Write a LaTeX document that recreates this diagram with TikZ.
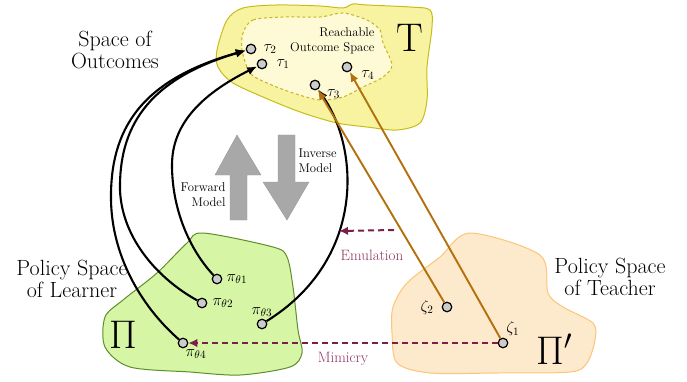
\RequirePackage{fix-cm}
\documentclass[tikz,border=0pt]{standalone}
\usetikzlibrary{arrows.meta}

\definecolor{outfill}{HTML}{F8F3A0}
\definecolor{outline}{HTML}{C8BC1A}
\definecolor{reachfill}{HTML}{FEFAD6}
\definecolor{reachline}{HTML}{C9B41C}
\definecolor{learnfill}{HTML}{D6F5A5}
\definecolor{learnline}{HTML}{5E8E2C}
\definecolor{teachfill}{HTML}{FDE9CB}
\definecolor{teachline}{HTML}{FBC57A}
\definecolor{emubrown}{HTML}{B3700C}
\definecolor{mimred}{HTML}{7C1E48}
\definecolor{mimtext}{HTML}{8E3460}
\definecolor{modelgray}{HTML}{A8A8A8}

\tikzset{
  dot/.style={circle, draw=black, fill=gray!40, line width=1.2pt, minimum size=9.5pt, inner sep=0pt},
  ptlab/.style={font=\fontsize{16}{16}\selectfont, inner sep=1pt},
  bigsym/.style={font=\fontsize{40}{40}\selectfont},
  spacelab/.style={font=\fontsize{22}{22}\selectfont, align=center},
  smalllab/.style={font=\fontsize{12.7}{15}\selectfont},
  pull/.style={-{Latex[length=10pt,width=8.5pt]}, line width=2.1pt},
  copyarr/.style={-{Latex[length=10pt,width=8pt]}, line width=1.9pt, emubrown},
  imitate/.style={-{Latex[length=9pt,width=8.5pt]}, line width=2pt, mimred, dash pattern=on 6pt off 4pt},
}

\begin{document}
\begin{tikzpicture}[x=1pt,y=-1pt]
  \useasboundingbox (0,0) rectangle (687,382);

  % spaces
  \draw[fill=outfill, draw=outline, line width=1pt] plot[smooth cycle, tension=0.5] coordinates {
    (217,50) (227,20) (243,8) (277,5) (320,6) (343,8) (353,4) (367,5) (410,7) (430,10)
    (432,27) (427,67) (427,100) (420,123) (397,130) (367,127) (337,123) (303,113)
    (270,100) (233,83) (218,67)};
  \draw[fill=reachfill, draw=reachline, line width=1pt, dash pattern=on 3pt off 2.5pt] plot[smooth cycle, tension=0.5] coordinates {
    (243,33) (253,20) (283,17) (320,17) (343,13) (367,20) (380,30) (383,43) (392,65)
    (383,77) (363,87) (343,97) (320,100) (293,93) (267,83) (250,73) (242,50)};
  \draw[fill=learnfill, draw=learnline, line width=1pt] plot[smooth cycle, tension=0.5] coordinates {
    (203,233) (273,247) (287,257) (293,287) (298,330) (302,353) (290,367) (240,375)
    (190,372) (130,367) (105,347) (105,317) (123,300) (157,273) (187,243)};
  \draw[fill=teachfill, draw=teachline, line width=1pt] plot[smooth cycle, tension=0.5] coordinates {
    (470,233) (540,255) (548,293) (563,307) (593,323) (595,340) (587,363) (570,372)
    (497,373) (430,373) (397,363) (392,333) (393,307) (407,283) (440,257)};

  % forward and inverse model
  \draw[fill=modelgray, draw=gray!80] (237,135) -- (261,175) -- (247,175) -- (247,220)
    -- (230,220) -- (230,175) -- (215,175) -- cycle;
  \draw[fill=modelgray, draw=gray!80] (287,220) -- (309,182) -- (295,182) -- (295,135)
    -- (278,135) -- (278,182) -- (263,182) -- cycle;
  \node[smalllab, align=right, anchor=east] (fwd) at (229,195) {Forward\\Model};
  \node[smalllab, align=left, anchor=west] (inv) at (295,161) {Inverse\\Model};

  % names of the spaces
  \node[spacelab] (outcomes) at (115,50) {Space of\\Outcomes};
  \node[spacelab] (learner) at (72,279) {Policy Space\\of Learner};
  \node[spacelab] (teacher) at (610,277) {Policy Space\\of Teacher};
  \node[smalllab, align=right, anchor=east] (reach) at (378,41) {Reachable\\Outcome Space};
  \node[bigsym] (T) at (410,38) {T};
  \node[bigsym] (Pi) at (123,335) {$\Pi$};
  \node[bigsym] (Pit) at (554,349) {$\Pi'$};

  % outcomes
  \node[dot, label={[ptlab, label distance=6pt]right:$\tau_2$}] (t2) at (251,49) {};
  \node[dot, label={[ptlab, label distance=8pt]right:$\tau_1$}] (t1) at (262,64) {};
  \node[dot, label={[ptlab, label distance=6pt]-15:$\tau_3$}] (t3) at (315,85) {};
  \node[dot, label={[ptlab, label distance=8pt]-10:$\tau_4$}] (t4) at (347,67) {};

  % learner policies
  \node[dot, label={[ptlab, label distance=3pt]right:$\pi_{\theta1}$}] (p1) at (217,279) {};
  \node[dot, label={[ptlab, label distance=4pt]right:$\pi_{\theta2}$}] (p2) at (202,303) {};
  \node[dot, label={[ptlab, label distance=1pt]above:$\pi_{\theta3}$}] (p3) at (262,324) {};
  \node[dot, label={[ptlab, label distance=0pt]-75:$\pi_{\theta4}$}] (p4) at (183,343) {};

  % teacher policies
  \node[dot, label={[ptlab, label distance=7pt]left:$\zeta_2$}] (z2) at (447,307) {};
  \node[dot, label={[ptlab, label distance=1pt]70:$\zeta_1$}] (z1) at (503,343) {};

  % forward model curves
  \coordinate (m4) at (111,200);
  \coordinate (m2) at (120,190);
  \coordinate (m1) at (172,165);
  \draw[line width=2.1pt] (p4) .. controls (145,310) and (112,260) .. (m4);
  \draw[pull] (m4) .. controls (110,130) and (140,80) .. (t2);
  \draw[line width=2.1pt] (p2) .. controls (160,280) and (122,240) .. (m2);
  \draw[pull] (m2) .. controls (119,130) and (145,80) .. (t2);
  \draw[line width=2.1pt] (p1) .. controls (190,250) and (172,210) .. (m1);
  \draw[pull] (m1) .. controls (172,125) and (200,95) .. (t1);
  \draw[pull] (p3) .. controls (365,260) and (360,150) .. (t3);

  % teacher outcomes
  \draw[copyarr] (z2) -- (t3);
  \draw[copyarr] (z1) -- (t4);

  % emulation and mimicry
  \coordinate (emustart) at (394,230);
  \coordinate (emuend) at (339,231);
  \draw[imitate] (emustart) -- (emuend);
  \node[font=\fontsize{15}{18}\selectfont, text=mimtext] (emu) at (372,255) {Emulation};
  \draw[imitate] (z1) -- (p4);
  \node[font=\fontsize{15}{18}\selectfont, text=mimtext] (mim) at (343,359) {Mimicry};
\end{tikzpicture}
\end{document}
